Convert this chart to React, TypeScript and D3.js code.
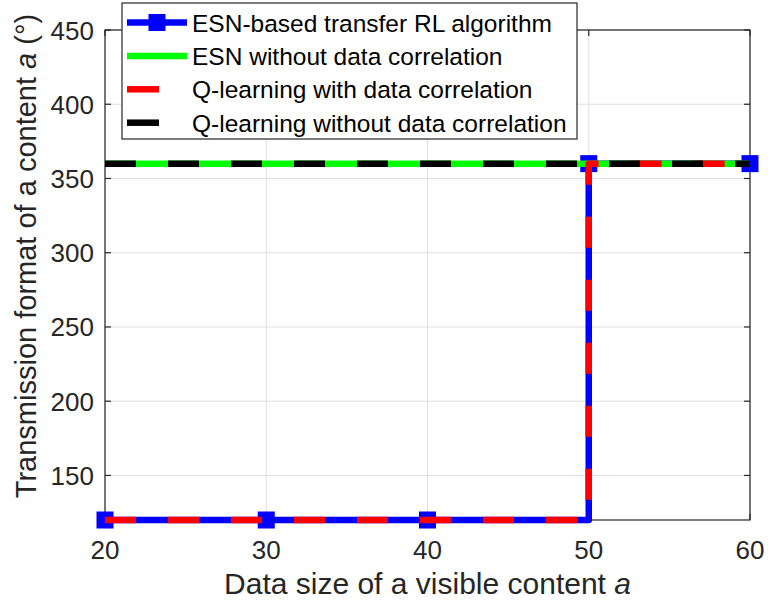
import * as d3 from "d3";

// data
const esnX = [20, 30, 40, 50, 50, 60];
const esnY = [120, 120, 120, 120, 360, 360];
const esnNoCorrX = [20, 60];
const esnNoCorrY = [360, 360];
const qCorrX = [20, 30, 40, 50, 50, 60];
const qCorrY = [120, 120, 120, 120, 360, 360];
const qNoCorrX = [20, 60];
const qNoCorrY = [360, 360];

const xTicks = [20, 30, 40, 50, 60];
const yTicks = [150, 200, 250, 300, 350, 400, 450];

const legendLabels = [
  "ESN-based transfer RL algorithm",
  "ESN without data correlation",
  "Q-learning with data correlation",
  "Q-learning without data correlation",
];

const width = 768;
const height = 607;
const marginLeft = 105;
const marginRight = 18;
const marginTop = 30;
const marginBottom = 87;
const axisColor = "#262626";
const font = "'Liberation Sans', Arial, sans-serif";

type Pt = { x: number; y: number };
const zip = (xs: number[], ys: number[]): Pt[] => xs.map((x, i) => ({ x, y: ys[i] }));

export default function App() {
  const x = d3.scaleLinear().domain([20, 60]).range([marginLeft, width - marginRight]);
  const y = d3.scaleLinear().domain([120, 450]).range([height - marginBottom, marginTop]);
  const line = d3
    .line<Pt>()
    .x((d) => x(d.x))
    .y((d) => y(d.y));

  const esn = zip(esnX, esnY);
  const esnNo = zip(esnNoCorrX, esnNoCorrY);
  const qc = zip(qCorrX, qCorrY);
  const qn = zip(qNoCorrX, qNoCorrY);

  // unique marker points of the ESN series
  const markers = esn.filter((d, i) => i !== 3);

  const [x0, x1] = x.range();
  const [y0, y1] = y.range();
  const ms = 17;
  const dash = "31 32";

  const legendX = 122;
  const legendY = 3;
  const legendW = 455;
  const legendH = 136;
  const rowY = (i: number) => legendY + 19.5 + i * 33.4;

  return (
    <svg width={width} height={height} style={{ position: "absolute", left: 0, top: 0 }}>
      <rect width={width} height={height} fill="white" />
      {/* grid */}
      <g stroke="#dfdfdf" strokeWidth={1}>
        {xTicks.map((t) => (
          <line key={t} x1={x(t)} x2={x(t)} y1={y1} y2={y0} />
        ))}
        {yTicks.map((t) => (
          <line key={t} x1={x0} x2={x1} y1={y(t)} y2={y(t)} />
        ))}
      </g>
      {/* box + ticks */}
      <g stroke={axisColor} strokeWidth={1.2} fill="none">
        <rect x={x0} y={y1} width={x1 - x0} height={y0 - y1} />
        {xTicks.map((t) => (
          <g key={t}>
            <line x1={x(t)} x2={x(t)} y1={y0} y2={y0 - 6} />
            <line x1={x(t)} x2={x(t)} y1={y1} y2={y1 + 6} />
          </g>
        ))}
        {yTicks.map((t) => (
          <g key={t}>
            <line x1={x0} x2={x0 + 6} y1={y(t)} y2={y(t)} />
            <line x1={x1} x2={x1 - 6} y1={y(t)} y2={y(t)} />
          </g>
        ))}
      </g>
      {/* tick labels */}
      <g fill={axisColor} fontFamily={font} fontSize={26}>
        {xTicks.map((t) => (
          <text key={t} x={x(t)} y={y0 + 39} textAnchor="middle">
            {t}
          </text>
        ))}
        {yTicks.map((t) => (
          <text key={t} x={x0 - 11} y={y(t) + 9.5} textAnchor="end">
            {t}
          </text>
        ))}
      </g>
      {/* axis labels */}
      <text x={(x0 + x1) / 2} y={594} textAnchor="middle" fontFamily={font} fontSize={30} fill={axisColor}>
        Data size of a visible content <tspan fontStyle="italic">a</tspan>
      </text>
      <text
        transform={`translate(36,256) rotate(-90)`}
        textAnchor="middle"
        fontFamily={font}
        fontSize={29}
        fill={axisColor}
      >
        Transmission format of a content <tspan fontStyle="italic">a</tspan> (°)
      </text>
      {/* series */}
      <g fill="none" strokeLinejoin="round">
        <path d={line(esn) || ""} stroke="#0000ff" strokeWidth={6.5} />
        {markers.map((d, i) => (
          <rect key={i} x={x(d.x) - ms / 2} y={y(d.y) - ms / 2} width={ms} height={ms} fill="#0000ff" />
        ))}
        <path d={line(esnNo) || ""} stroke="#00ff00" strokeWidth={6.5} />
        <path d={line(qc) || ""} stroke="#ff0000" strokeWidth={6.5} strokeDasharray={dash} />
        <path d={line(qn) || ""} stroke="#000000" strokeWidth={6.5} strokeDasharray={dash} />
      </g>
      {/* legend */}
      <g>
        <rect x={legendX} y={legendY} width={legendW} height={legendH} fill="white" stroke={axisColor} strokeWidth={1.2} />
        <line x1={legendX + 5} x2={legendX + 65} y1={rowY(0)} y2={rowY(0)} stroke="#0000ff" strokeWidth={6.5} />
        <rect x={legendX + 35 - ms / 2} y={rowY(0) - ms / 2} width={ms} height={ms} fill="#0000ff" />
        <line x1={legendX + 5} x2={legendX + 65} y1={rowY(1)} y2={rowY(1)} stroke="#00ff00" strokeWidth={6.5} />
        <line x1={legendX + 5} x2={legendX + 37} y1={rowY(2)} y2={rowY(2)} stroke="#ff0000" strokeWidth={6.5} />
        <line x1={legendX + 5} x2={legendX + 37} y1={rowY(3)} y2={rowY(3)} stroke="#000000" strokeWidth={6.5} />
        {legendLabels.map((l, i) => (
          <text key={l} x={legendX + 70} y={rowY(i) + 9} fontFamily={font} fontSize={24.5} fill="#000">
            {l}
          </text>
        ))}
      </g>
    </svg>
  );
}
